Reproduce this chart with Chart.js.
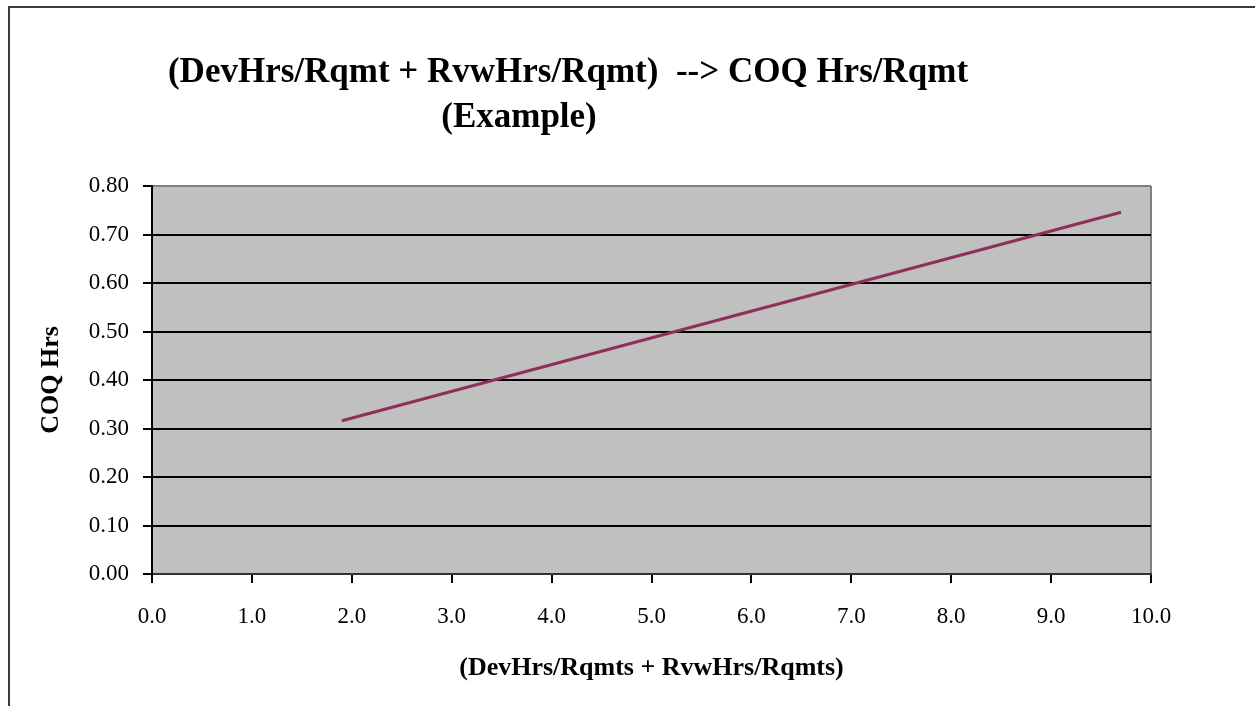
<!DOCTYPE html>
<html>
<head>
<meta charset="utf-8">
<script src="https://cdn.jsdelivr.net/npm/chart.js@4/dist/chart.umd.min.js"></script>
<style>
  html, body { margin: 0; padding: 0; background: #fff; overflow: hidden; }
  #wrap { position: relative; width: 1255px; height: 706px; }
  #frame { position: absolute; left: 8px; top: 6px; width: 1300px; height: 800px;
           border-top: 2px solid #3a3a3a; border-left: 2px solid #3a3a3a; }
  #myChart { position: absolute; left: 0; top: 0; }
</style>
</head>
<body>
<div id="wrap">
  <div id="frame"></div>
  <canvas id="myChart" width="1255" height="706"></canvas>
</div>
<script>
// values
var xValues = [1.9, 9.7];          // (DevHrs/Rqmts + RvwHrs/Rqmts)
var yValues = [0.316, 0.746];      // COQ Hrs
var titleLines = ['(DevHrs/Rqmt + RvwHrs/Rqmt)  --> COQ Hrs/Rqmt', '(Example)'];
var xTitle = '(DevHrs/Rqmts + RvwHrs/Rqmts)';
var yTitle = 'COQ Hrs';

var serif = '"Liberation Serif", "Times New Roman", serif';

// grey plot area + two line title
var plotBackground = {
    id: 'plotBackground',
    beforeDraw: function(chart) {
        var a = chart.chartArea, ctx = chart.ctx;
        ctx.save();
        ctx.fillStyle = '#c0c0c0';
        ctx.fillRect(a.left, a.top, a.right - a.left, a.bottom - a.top);
        ctx.restore();
    },
    afterDraw: function(chart) {
        var ctx = chart.ctx;
        ctx.save();
        ctx.fillStyle = '#000';
        ctx.font = 'bold 35px ' + serif;
        ctx.textAlign = 'center';
        ctx.textBaseline = 'alphabetic';
        ctx.fillText(titleLines[0], 568, 82);
        ctx.fillText(titleLines[1], 519, 127);
        ctx.restore();
    }
};

var points = xValues.map(function(x, i) { return {x: x, y: yValues[i]}; });

var ctx = document.getElementById('myChart').getContext('2d');
var chart = new Chart(ctx, {
    type: 'scatter',
    data: {
        datasets: [{
            label: 'COQ',
            data: points,
            showLine: true,
            borderColor: '#8e2f5c',
            borderWidth: 3,
            pointRadius: 0,
            fill: false
        }]
    },
    options: {
        responsive: false,
        animation: false,
        layout: {
            padding: { left: 0, top: 186, right: 104, bottom: 0 }
        },
        plugins: {
            legend: { display: false },
            title: { display: false },
            tooltip: { enabled: false }
        },
        scales: {
            x: {
                type: 'linear',
                min: 0,
                max: 10,
                afterFit: function(scale) { scale.height = 132; },
                ticks: {
                    stepSize: 1,
                    padding: 20,
                    color: '#000',
                    font: { family: serif, size: 23 },
                    callback: function(v) { return v.toFixed(1); }
                },
                grid: {
                    drawOnChartArea: true,
                    color: function(c) {
                        return c.tick && c.tick.value === 10 ? '#808080' : 'rgba(0,0,0,0)';
                    },
                    tickColor: '#000',
                    tickLength: 9,
                    lineWidth: 2
                },
                border: { color: '#333', width: 2 },
                title: {
                    display: true,
                    text: xTitle,
                    color: '#000',
                    font: { family: serif, size: 26, weight: 'bold' },
                    padding: { bottom: 22, top: 0 }
                }
            },
            y: {
                min: 0,
                max: 0.8,
                afterFit: function(scale) { scale.width = 152; },
                ticks: {
                    stepSize: 0.1,
                    padding: 14,
                    color: '#000',
                    font: { family: serif, size: 23 },
                    callback: function(v) { return v.toFixed(2); }
                },
                grid: {
                    color: function(c) {
                        return c.tick && Math.abs(c.tick.value - 0.8) < 1e-6 ? '#808080' : '#000';
                    },
                    tickColor: '#000',
                    tickLength: 9,
                    lineWidth: 2
                },
                border: { color: '#000', width: 2 },
                title: {
                    display: true,
                    text: yTitle,
                    color: '#000',
                    font: { family: serif, size: 26, weight: 'bold' },
                    padding: { top: 36, bottom: 0 }
                }
            }
        }
    },
    plugins: [plotBackground]
});
</script>
</body>
</html>
